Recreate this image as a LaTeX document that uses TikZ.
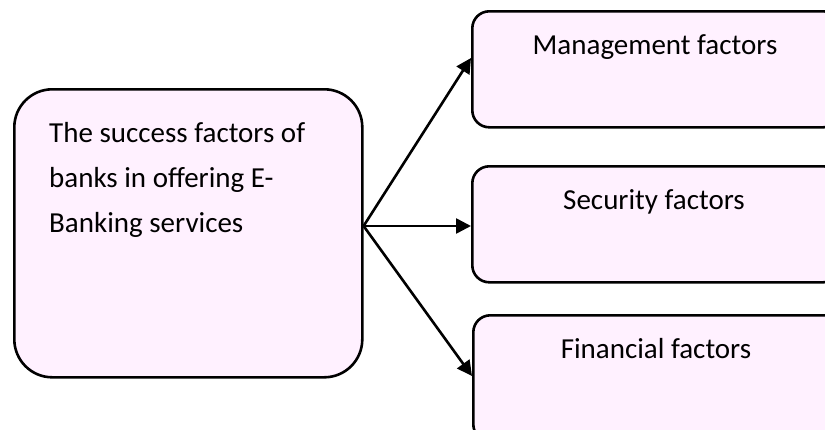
\documentclass[tikz,border=0pt]{standalone}
\usepackage{fontspec}
\setmainfont{Carlito}
\usetikzlibrary{arrows.meta}
\definecolor{boxfill}{RGB}{255,241,255}
\tikzset{
  mainbox/.style={draw=black, line width=2.6pt, fill=boxfill, rounded corners=38pt,
    rectangle, anchor=north west, inner sep=0pt},
  factorbox/.style={draw=black, line width=2.6pt, fill=boxfill, rounded corners=17pt,
    rectangle, anchor=north west, inner sep=0pt, minimum width=368pt},
  boxtext/.style={font=\fontsize{29}{45}\selectfont, inner sep=0pt},
  link/.style={draw=black, line width=2.6pt, -{Triangle[length=15pt, width=15pt]}}
}
\begin{document}
\begin{tikzpicture}[x=1pt, y=-1pt]
  \clip (0,0) rectangle (825,429);
  \fill[white] (0,0) rectangle (825,429);

  % central box
  \node[mainbox, minimum width=348pt, minimum height=288pt] (main) at (13,88) {};
  \node[boxtext, anchor=base west] (l1) at (49,142) {The success factors of};
  \node[boxtext, anchor=base west] (l2) at (49,187) {banks in offering E-};
  \node[boxtext, anchor=base west] (l3) at (49,232) {Banking services};

  % factor boxes
  \node[factorbox, minimum height=116pt] (mgmt) at (471,10) {};
  \node[factorbox, minimum height=116pt] (sec) at (471,165) {};
  \node[factorbox, minimum height=126pt] (fin) at (472,314) {};

  \node[boxtext, anchor=base] (tmgmt) at (655,54) {Management factors};
  \node[boxtext, anchor=base] (tsec) at (654,209) {Security factors};
  \node[boxtext, anchor=base] (tfin) at (656,358) {Financial factors};

  % connectors from the fork point on the central box
  \coordinate (fork) at (main.east |- 0,226);
  \coordinate (emgmt) at (mgmt.west |- 0,58);
  \coordinate (esec) at (sec.west |- 0,226);
  \coordinate (efin) at (fin.west |- 0,376);
  \draw[link] (fork) -- (emgmt);
  \draw[link] (fork) -- (esec);
  \draw[link] (fork) -- (efin);
\end{tikzpicture}
\end{document}
